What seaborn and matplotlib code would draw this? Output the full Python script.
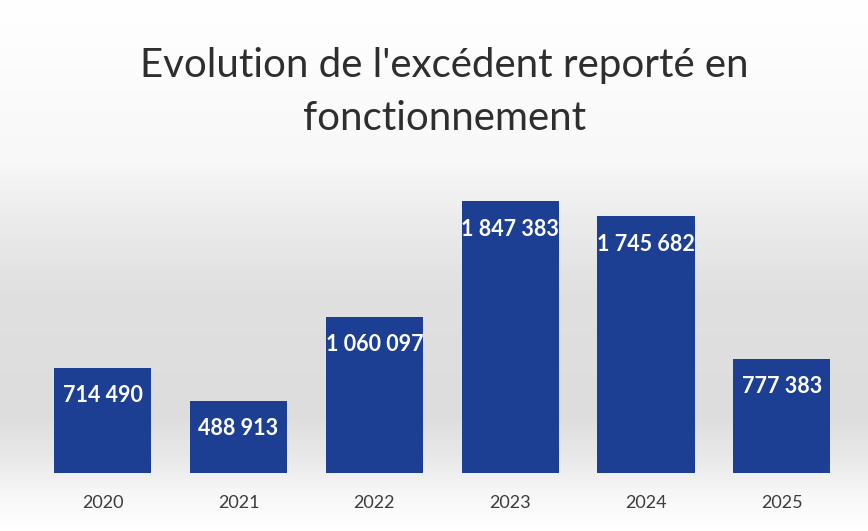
import numpy as np
import matplotlib
matplotlib.use("Agg")
import matplotlib.pyplot as plt
import seaborn as sns
from matplotlib.colors import LinearSegmentedColormap

years = ["2020", "2021", "2022", "2023", "2024", "2025"]
values = [714490, 488913, 1060097, 1847383, 1745682, 777383]
labels = ["714 490", "488 913", "1 060 097", "1 847 383", "1 745 682", "777 383"]
title_lines = ["Evolution de l'excédent reporté en", "fonctionnement"]

sns.set_theme(style="white")
plt.rcParams['font.family'] = ['Lato', 'DejaVu Sans']

fig = plt.figure(figsize=(8.68, 5.31), dpi=100)

# background gradient
bg = fig.add_axes([0, 0, 1, 1], zorder=-1)
stops = [(0.0, "#ffffff"), (0.30, "#f8f8f8"), (0.42, "#ebebeb"), (0.55, "#e0e0e0"),
         (0.78, "#dddddd"), (0.86, "#e8e8e8"), (0.93, "#f7f7f7"), (1.0, "#ffffff")]
cmap = LinearSegmentedColormap.from_list("bgg", stops)
grad = np.linspace(0, 1, 512).reshape(-1, 1)
bg.imshow(grad, aspect="auto", cmap=cmap, extent=[0, 1, 0, 1], origin="upper")
bg.set_axis_off()

ax = fig.add_axes([0.04, 1 - 473 / 531, 0.939, (473 - 179) / 531])
ax.patch.set_alpha(0)
sns.barplot(x=years, y=values, color="#1c3f94", saturation=1, width=0.715,
            linewidth=0, edgecolor="none", ax=ax)
ax.set_ylim(0, 2000000)
ax.set_xlim(-0.5, 5.5)
ax.set_xlabel("")
ax.set_ylabel("")
ax.set_yticks([])
for s in ax.spines.values():
    s.set_visible(False)
ax.tick_params(axis="x", length=0, pad=16, labelsize=13, labelcolor="#3c3c3c")

for i, (v, lab) in enumerate(zip(values, labels)):
    ax.annotate(lab, xy=(i, v), xytext=(0, -20), textcoords="offset points",
                ha="center", va="center", color="white", fontsize=15.5, fontweight="bold")

for yy, line in zip([0.876, 0.776], title_lines):
    fig.text(0.512, yy, line, ha="center", va="center", fontsize=29, color="#2e2e2e")

fig.savefig("out.png", dpi=100)
